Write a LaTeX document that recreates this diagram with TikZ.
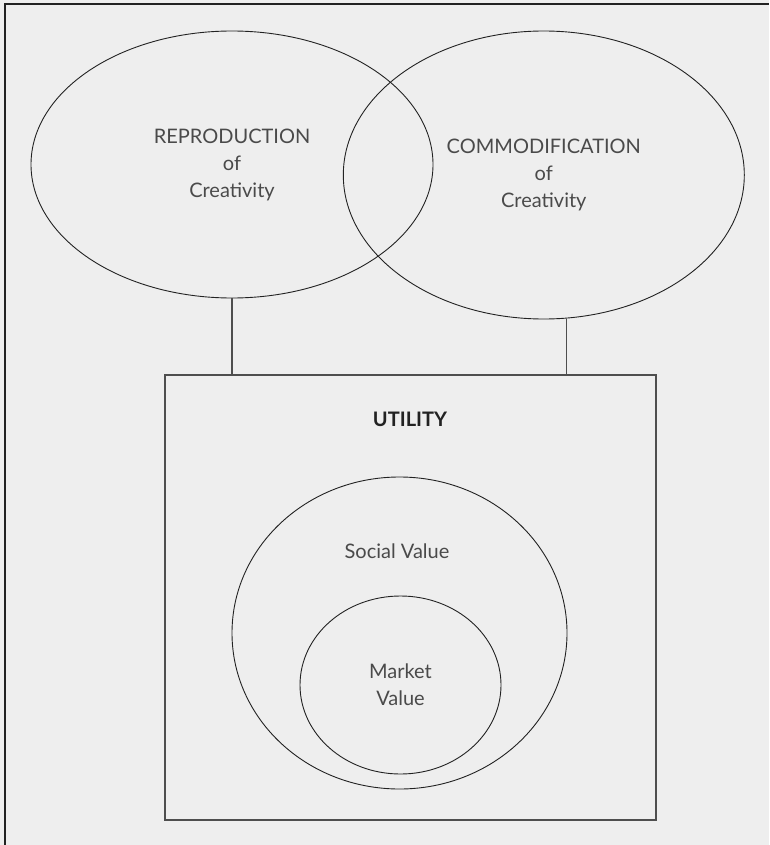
\documentclass[tikz,border=0pt]{standalone}
\usepackage{fontspec}
\setmainfont{Lato}
\usetikzlibrary{shapes.geometric}
\definecolor{paper}{HTML}{EEEEEE}
\definecolor{ink}{HTML}{222222}
\definecolor{txt}{HTML}{4A4A4A}
\tikzset{
  blob/.style={ellipse,draw=ink,line width=0.9pt,inner sep=0pt,text=txt,align=center},
  label/.style={text=txt,align=center},
  link/.style={draw=ink!80,line width=1.3pt},
}
\begin{document}
\begin{tikzpicture}[x=1pt,y=-1pt,font=\fontsize{20}{27}\selectfont]
\useasboundingbox (0,0) rectangle (769,845);
\fill[paper] (0,0) rectangle (769,845);
\draw[ink,line width=2pt] (4.5,845) -- (4.5,4.5) -- (769,4.5);
% the two kinds of creativity
\node[blob,minimum width=402pt,minimum height=267pt] (repro) at (232,164.5)
  {REPRODUCTION\\of\\Creativity};
\node[blob,minimum width=401pt,minimum height=288pt] (commod) at (543.8,175)
  {COMMODIFICATION\\of\\Creativity};
% utility box with nested values
\node[draw=ink!80,line width=1.3pt,minimum width=491pt,minimum height=445pt,inner sep=0pt] (utility) at (410.5,597.5) {};
\node[text=ink,font=\fontsize{20}{22}\selectfont\bfseries] (utiltxt) at (410,419) {UTILITY};
\node[blob,minimum width=335pt,minimum height=312pt] (social) at (399.5,633) {};
\node[label] (socialtxt) at (397,551) {Social Value};
\node[blob,minimum width=201pt,minimum height=178pt] (market) at (400.5,685) {Market\\Value};
\draw[link] (repro.south) -- (repro.south |- utility.north);
\draw[link] (commod.-81) -- (commod.-81 |- utility.north);
\end{tikzpicture}
\end{document}
